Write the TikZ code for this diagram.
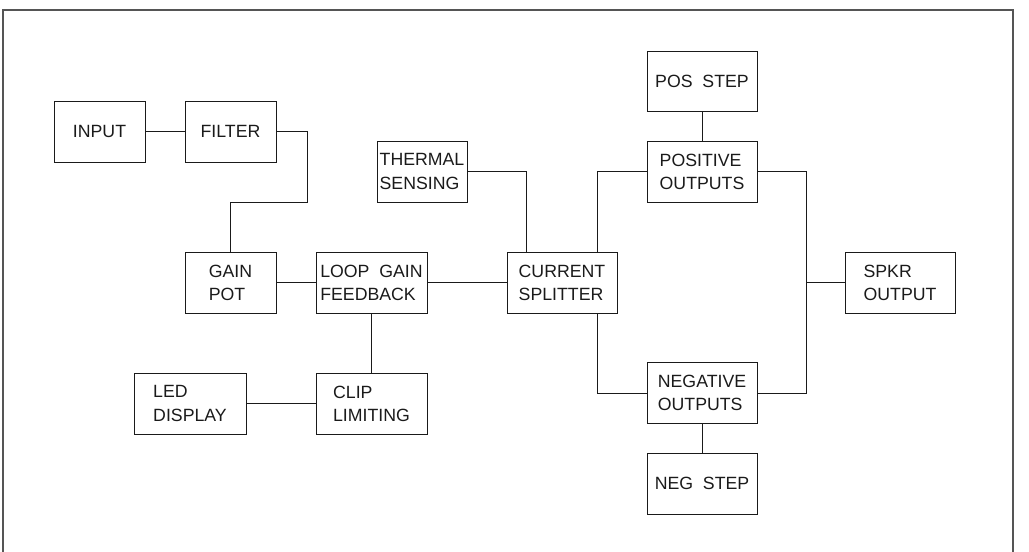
\documentclass[tikz,border=0pt]{standalone}
\usepackage{fontspec}
\setmainfont{Liberation Sans}
\usepackage{tikz}
\usetikzlibrary{calc}
\definecolor{Ink}{HTML}{1A1A1A}
\definecolor{Frame}{HTML}{555555}

\begin{document}
\begin{tikzpicture}[x=0.025cm,y=-0.025cm,
        blk/.style={draw=Ink,line width=0.7pt,minimum height=61*0.025cm,
              inner sep=0pt,align=left,text=Ink,
              font=\fontsize{12.6}{16.4}\selectfont},
        wire/.style={draw=Ink,line width=0.6pt}]
        \useasboundingbox (0,0) rectangle (1029,551);
        \draw[Frame,line width=0.9pt] (3,560) -- (3,10) -- (1013,10) -- (1013,560);
        % front end
        \node[blk,minimum width=91*0.025cm] (input) at (99.5,131.5) {INPUT};
        \node[blk,minimum width=91*0.025cm] (filter) at (230.5,131.5) {FILTER};
        \node[blk,minimum width=90*0.025cm] (thermal) at (422,171.5) {THERMAL\\SENSING};
        \node[blk,minimum width=91*0.025cm] (gainpot) at (230.5,282.5) {GAIN\\POT};
        \node[blk,minimum width=111*0.025cm] (loop) at (371.5,282.5) {LOOP\ \ GAIN\\FEEDBACK};
        \node[blk,minimum width=112*0.025cm] (led) at (190,403.5) {LED\\DISPLAY};
        \node[blk,minimum width=111*0.025cm] (clip) at (371.5,403.5) {CLIP\\LIMITING};
        % output stage
        \node[blk,minimum width=110*0.025cm] (current) at (562,282.5) {CURRENT\\SPLITTER};
        \node[blk,minimum width=110*0.025cm,minimum height=60*0.025cm] (posstep) at (702,81) {POS\ \ STEP};
        \node[blk,minimum width=110*0.025cm] (posout) at (702,171.5) {POSITIVE\\OUTPUTS};
        \node[blk,minimum width=110*0.025cm] (negout) at (702,393) {NEGATIVE\\OUTPUTS};
        \node[blk,minimum width=110*0.025cm] (negstep) at (702,483.5) {NEG\ \ STEP};
        \node[blk,minimum width=110*0.025cm] (spkr) at (900,282.5) {SPKR\\OUTPUT};
        \coordinate (fbend) at (307,202);
        \coordinate (rbus) at (806,282.5);
        % connections
        \draw[wire] (input) -- (filter);
        \draw[wire] (filter.east) -| (fbend) -| (gainpot.north);
        \draw[wire] (gainpot) -- (loop);
        \draw[wire] (loop) -- (current);
        \draw[wire] (loop) -- (clip);
        \draw[wire] (led) -- (clip);
        \draw[wire] (thermal.east) -| ($(current.north west)!0.18!(current.north east)$);
        \draw[wire] ($(current.north west)!0.82!(current.north east)$) |- (posout.west);
        \draw[wire] ($(current.south west)!0.82!(current.south east)$) |- (negout.west);
        \draw[wire] (posstep) -- (posout);
        \draw[wire] (negout) -- (negstep);
        \draw[wire] (posout.east) -| (rbus) |- (negout.east);
        \draw[wire] (rbus) -- (spkr.west);
      \end{tikzpicture}
\end{document}
